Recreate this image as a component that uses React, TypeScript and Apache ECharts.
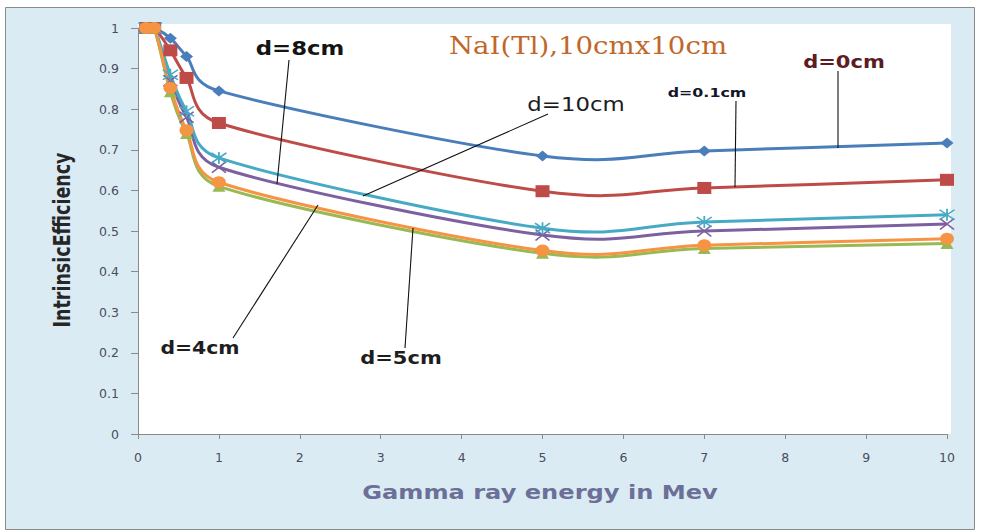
import React, { useEffect, useRef } from "react";
import * as echarts from "echarts";

const energies = [0.1, 0.2, 0.4, 0.6, 1, 5, 7, 10];
const d0cm = [1, 1, 0.975, 0.93, 0.845, 0.685, 0.697, 0.717];
const d01cm = [1, 1, 0.945, 0.877, 0.766, 0.598, 0.606, 0.626];
const d5cm = [1, 1, 0.843, 0.74, 0.61, 0.445, 0.457, 0.469];
const d8cm = [1, 1, 0.87, 0.78, 0.657, 0.49, 0.5, 0.517];
const d10cm = [1, 1, 0.885, 0.795, 0.68, 0.507, 0.522, 0.54];
const d4cm = [1, 1, 0.853, 0.748, 0.62, 0.452, 0.465, 0.481];

const titleText = "NaI(Tl),10cmx10cm";
const xTitle = "Gamma ray energy in Mev";
const yTitle = "IntrinsicEfficiency";

const X_PATH = "path://M0,0L10,10M10,0L0,10";
const STAR_PATH = "path://M0,0L10,10M10,0L0,10M5,-1L5,11";

function pairs(ys: number[]) {
  return energies.map((x, i) => [x, ys[i]]);
}

export default function App() {
  const ref = useRef<HTMLDivElement>(null);
  useEffect(() => {
    if (!ref.current) return;
    const chart = echarts.init(ref.current, undefined, { renderer: "svg" });

    // Excel-style smoothed line (Catmull-Rom style Bezier control points), drawn through the axes' scales
    const curve = (name: string, data: number[], color: string) => ({
      name,
      type: "custom",
      data: pairs(data),
      encode: { x: 0, y: 1 },
      clip: true,
      z: 2,
      renderItem: (params: any, api: any) => {
        if (params.dataIndexInside !== 0) return null;
        const n = data.length;
        const p: number[][] = [];
        for (let i = 0; i < n; i++) {
          p.push(api.coord([api.value(0, i), api.value(1, i)]));
        }
        const at = (i: number) => p[Math.max(0, Math.min(n - 1, i))];
        const tan = (i: number, segDx: number) => {
          const a = at(i - 1), c = at(i + 1);
          let tx = (c[0] - a[0]) / 6;
          let ty = (c[1] - a[1]) / 6;
          const lim = 0.9 * Math.abs(segDx);
          if (Math.abs(tx) > lim && tx !== 0) {
            const k = lim / Math.abs(tx);
            tx *= k;
            ty *= k;
          }
          return [tx, ty];
        };
        let d = `M${p[0][0]},${p[0][1]}`;
        for (let i = 0; i < n - 1; i++) {
          const b = at(i), c = at(i + 1);
          const segDx = c[0] - b[0];
          const t1 = tan(i, segDx);
          const t2 = tan(i + 1, segDx);
          d += ` C${b[0] + t1[0]},${b[1] + t1[1]} ${c[0] - t2[0]},${c[1] - t2[1]} ${c[0]},${c[1]}`;
        }
        return {
          type: "path",
          shape: { pathData: d },
          style: { stroke: color, lineWidth: 3, fill: "none", lineJoin: "round" },
        };
      },
    });
    const marks = (
      name: string,
      data: number[],
      color: string,
      symbol: string,
      size: number[],
      stroked: boolean
    ) => ({
      name,
      type: "scatter",
      data: pairs(data),
      symbol,
      symbolSize: size,
      z: 2,
      itemStyle: stroked
        ? { color, borderColor: color, borderWidth: 1.6, opacity: 1 }
        : { color, borderWidth: 0, opacity: 1 },
    });
    const sans = "DejaVu Sans";
    const ann = (
      text: string,
      x: number,
      y: number,
      size: number,
      weight: string,
      fill: string,
      scaleX = 1.2
    ) => ({
      type: "text",
      x,
      y,
      scaleX,
      z: 20,
      style: {
        text,
        font: `${weight} ${size}px "${sans}"`,
        fill,
        align: "center",
        verticalAlign: "middle",
      },
    });
    const lead = (x1: number, y1: number, x2: number, y2: number) => ({
      type: "line",
      z: 20,
      shape: { x1, y1, x2, y2 },
      style: { stroke: "#111", lineWidth: 1.1 },
    });
    const specs: [string, number[], string, string, number[], boolean][] = [
      ["d=0cm", d0cm, "#4a7ebb", "diamond", [13, 11], false],
      ["d=0.1cm", d01cm, "#be4b48", "rect", [14, 12], false],
      ["d=5cm", d5cm, "#98b954", "triangle", [13, 11], false],
      ["d=8cm", d8cm, "#7d60a0", X_PATH, [14, 11], true],
      ["d=10cm", d10cm, "#46aac5", STAR_PATH, [15, 12], true],
      ["d=4cm", d4cm, "#f59443", "circle", [14, 12], false],
    ];
    const series: any[] = [];
    specs.forEach(([name, data, color, sym, size, stroked]) => {
      series.push(curve(name, data, color));
      series.push(marks(name, data, color, sym, size, stroked));
    });
    chart.setOption({
      animation: false,
      backgroundColor: "#ffffff",
      grid: { left: 138, right: 34, top: 28, bottom: 97, containLabel: false },
      xAxis: {
        type: "value",
        min: 0,
        max: 10,
        interval: 1,
        splitLine: { show: false },
        axisLine: { show: true, lineStyle: { color: "#8a8a8a", width: 1 } },
        axisTick: { show: true, inside: false, length: 5, lineStyle: { color: "#8a8a8a" } },
        axisLabel: {
          margin: 17,
          color: "#4a4c60",
          fontFamily: sans,
          fontSize: 12.5,
        },
      },
      yAxis: {
        type: "value",
        min: 0,
        max: 1,
        interval: 0.1,
        splitLine: { show: false },
        axisLine: { show: true, lineStyle: { color: "#8a8a8a", width: 1 } },
        axisTick: { show: true, inside: false, length: 7, lineStyle: { color: "#8a8a8a" } },
        axisLabel: {
          margin: 19,
          color: "#4a4c60",
          fontFamily: sans,
          fontSize: 12.5,
          formatter: (v: number) => String(+v.toFixed(1)),
        },
      },
      series,
      graphic: [
        {
          type: "rect",
          z: -2,
          shape: { x: 5.5, y: 7.5, width: 969, height: 522 },
          style: { fill: "#dbebf3", stroke: "#8a8a8a", lineWidth: 1 },
        },
        {
          type: "rect",
          z: -1,
          shape: { x: 138, y: 24, width: 813, height: 410 },
          style: { fill: "#ffffff" },
        },
        {
          type: "text",
          x: 588,
          y: 46,
          scaleX: 1.15,
          z: 20,
          style: {
            text: titleText,
            font: `normal 24px "DejaVu Serif"`,
            fill: "#c0682c",
            align: "center",
            verticalAlign: "middle",
          },
        },
        {
          type: "text",
          x: 540,
          y: 492,
          scaleX: 1.27,
          z: 20,
          style: {
            text: xTitle,
            font: `bold 19px "${sans}"`,
            fill: "#6c6f98",
            align: "center",
            verticalAlign: "middle",
          },
        },
        {
          type: "text",
          x: 62,
          y: 240,
          rotation: Math.PI / 2,
          scaleY: 1.3,
          z: 20,
          style: {
            text: yTitle,
            font: `bold 17.5px "${sans}"`,
            fill: "#262626",
            align: "center",
            verticalAlign: "middle",
          },
        },
        ann("d=8cm", 300, 49, 19, "bold", "#141414"),
        ann("d=0cm", 844, 62, 17.5, "bold", "#5c1c24"),
        ann("d=0.1cm", 707, 93, 13, "bold", "#14142a", 1.22),
        ann("d=10cm", 576, 105, 19, "normal", "#1c1c1c"),
        ann("d=4cm", 200, 348, 17, "bold", "#1e1e1e"),
        ann("d=5cm", 401, 358, 17.5, "bold", "#1e1e1e"),
        lead(289, 60, 277, 184),
        lead(838, 71, 838, 148),
        lead(736, 101, 735, 187),
        lead(548, 114, 363, 196),
        lead(233, 338, 318, 205),
        lead(405, 348, 413, 228),
      ],
    });
    return () => chart.dispose();
  }, []);
  return (
    <div
      ref={ref}
      style={{ position: "absolute", left: 0, top: 0, width: 981, height: 531 }}
    />
  );
}
